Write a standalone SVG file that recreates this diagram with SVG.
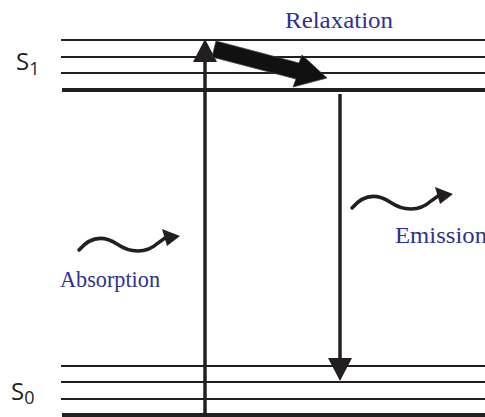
<svg xmlns="http://www.w3.org/2000/svg" width="485" height="417" viewBox="0 0 485 417">
  <style>
    .thin { stroke: #231f20; stroke-width: 2; fill: none; }
    .thick { stroke: #231f20; stroke-width: 4; fill: none; }
    .shaft { stroke: #231f20; stroke-width: 3.5; fill: none; }
    .wave { stroke: #231f20; stroke-width: 3.5; fill: none; stroke-linecap: round; }
    .head { fill: #231f20; }
    .lbl { font-family: "Liberation Serif", "Times New Roman", serif; font-size: 23px; fill: #2e3192; }
    .state { font-family: "Open Sans", "DejaVu Sans", sans-serif; fill: #231f20; }
  </style>
  <rect width="485" height="417" fill="#ffffff"/>

  <g id="S1">
    <line class="thin" x1="61" y1="40" x2="485" y2="40"/>
    <line class="thin" x1="61" y1="57" x2="485" y2="57"/>
    <line class="thin" x1="61" y1="73" x2="485" y2="73"/>
    <line class="thick" x1="62" y1="90" x2="485" y2="90"/>
    <text class="state" x="16" y="70" font-size="24">S<tspan font-size="18" dy="5">1</tspan></text>
  </g>

  <g id="S0">
    <line class="thin" x1="61" y1="366" x2="485" y2="366"/>
    <line class="thin" x1="61" y1="382" x2="485" y2="382"/>
    <line class="thin" x1="61" y1="399" x2="485" y2="399"/>
    <line class="thick" x1="62" y1="415" x2="485" y2="415"/>
    <text class="state" x="11" y="400" font-size="24">S<tspan font-size="18" dy="4">0</tspan></text>
  </g>

  <g id="connectors">
    <g id="absorption-arrow">
      <line class="shaft" x1="205" y1="417" x2="205" y2="60"/>
      <polygon class="head" points="205,39 193,62 217,62"/>
    </g>
    <g id="emission-arrow">
      <line class="shaft" x1="340" y1="94" x2="340" y2="360"/>
      <polygon class="head" points="328,358 352,358 340,381"/>
    </g>
    <g id="relaxation-arrow">
      <polygon fill="#111111" stroke="#444444" stroke-width="0.8" points="216,41 299,63 302,55 327,78 293,87 296,79 212,57"/>
    </g>
    <g id="absorption-wave">
      <path class="wave" d="M79,250 C90,237 103,235 117,244 C130,253 146,254 158,243 L165,238"/>
      <polygon class="head" points="162,229 180,236 167,246"/>
    </g>
    <g id="emission-wave" transform="translate(273,-42)">
      <path class="wave" d="M79,250 C90,237 103,235 117,244 C130,253 146,254 158,243 L165,238"/>
      <polygon class="head" points="162,229 180,236 167,246"/>
    </g>
  </g>

  <g id="labels">
    <text id="relaxation" class="lbl" x="285" y="28" textLength="108" lengthAdjust="spacingAndGlyphs">Relaxation</text>
    <text id="absorption" class="lbl" x="60" y="287" textLength="100" lengthAdjust="spacingAndGlyphs">Absorption</text>
    <text id="emission" class="lbl" x="395" y="243" textLength="92" lengthAdjust="spacingAndGlyphs">Emission</text>
  </g>
</svg>
